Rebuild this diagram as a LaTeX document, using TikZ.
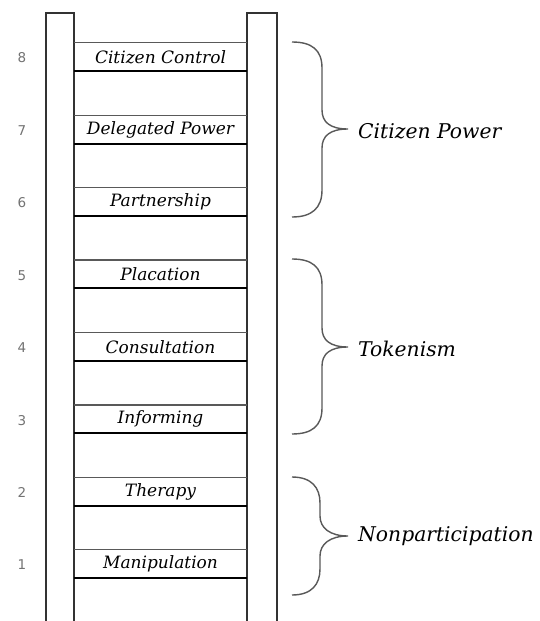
\documentclass[tikz,border=0pt]{standalone}
\usepackage{fontspec}
\setmainfont{DejaVu Serif}
\newfontfamily\numfont{DejaVu Sans}
\begin{document}
\begin{tikzpicture}[x=1pt,y=-1pt,
  rail/.style={draw=black!80,line width=1.7pt,fill=white},
  rung/.style={minimum width=173pt,minimum height=28pt,inner sep=0pt,font=\itshape\fontsize{17}{18}\selectfont},
  thinline/.style={draw=black!65,line width=1.2pt},
  thickline/.style={draw=black,line width=2pt},
  num/.style={font=\numfont\fontsize{13.5}{14}\selectfont,text=black!55},
  brc/.style={draw=black!65,line width=1.4pt},
  grp/.style={anchor=west,inner sep=0pt,font=\itshape\fontsize{20.3}{21}\selectfont}]
\useasboundingbox (0,0) rectangle (539,621);
\fill[white] (0,0) rectangle (539,621);
% rails
\draw[rail] (46,630) -- (46,13) -- (74,13) -- (74,630);
\draw[rail] (247,630) -- (247,13) -- (277,13) -- (277,630);
% rungs
\foreach \k/\t [evaluate=\k as \yy using {43+(8-\k)*72.43+14}] in
  {8/Citizen Control,7/Delegated Power,6/Partnership,5/Placation,4/Consultation,3/Informing,2/Therapy,1/Manipulation}{
  \node[rung] (r\k) at (160.5,\yy) {\t};
  \draw[thinline] (r\k.north west) -- (r\k.north east);
  \draw[thickline] (r\k.south west) -- (r\k.south east);
  \node[num] (n\k) at (22,\yy+1) {\k};
}
% braces
\coordinate (b1t) at (292,42);
\coordinate (b1b) at (292,217);
\coordinate (b1m) at (348,129);
\draw[brc] (b1t) .. controls (312,42) and (322,50) .. (322,68) -- (322,110)
  .. controls (322,122) and (330,129) .. (b1m)
  .. controls (330,129) and (322,136) .. (322,148) -- (322,190)
  .. controls (322,208) and (312,217) .. (b1b);
\node[grp] (g1) at (358,131) {Citizen Power};
\coordinate (b2t) at (292,259);
\coordinate (b2b) at (292,434);
\coordinate (b2m) at (348,347);
\draw[brc] (b2t) .. controls (312,259) and (322,267) .. (322,285) -- (322,328)
  .. controls (322,340) and (330,347) .. (b2m)
  .. controls (330,347) and (322,354) .. (322,366) -- (322,408)
  .. controls (322,426) and (312,434) .. (b2b);
\node[grp] (g2) at (358,349) {Tokenism};
\coordinate (b3t) at (292,477);
\coordinate (b3b) at (292,595);
\coordinate (b3m) at (348,536);
\draw[brc] (b3t) .. controls (312,477) and (320,488) .. (320,503) -- (320,516)
  .. controls (320,528) and (330,536) .. (b3m)
  .. controls (330,536) and (320,544) .. (320,556) -- (320,569)
  .. controls (320,584) and (312,595) .. (b3b);
\node[grp] (g3) at (358,536) {Nonparticipation};
\end{tikzpicture}
\end{document}
